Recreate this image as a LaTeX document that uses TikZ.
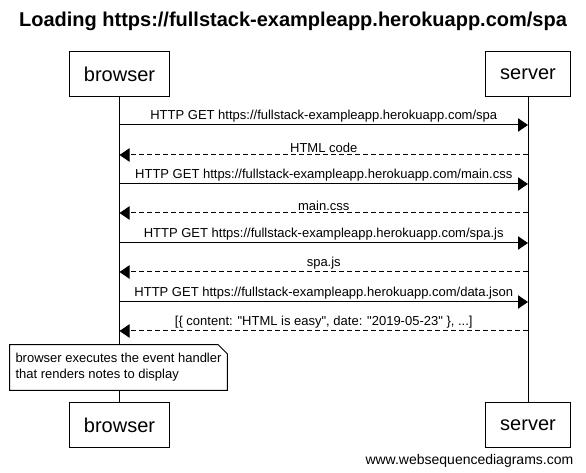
\documentclass[tikz,border=0pt]{standalone}
\usepackage{fontspec}
\setmainfont{Liberation Sans}
\usepackage{tikz}
\usetikzlibrary{arrows.meta,positioning,calc}
\tikzset{
  actorbox/.style={draw=black, fill=white, line width=0.75pt, inner xsep=11pt,
                   minimum height=33.75pt, font=\fontsize{15}{18}\selectfont},
  lifeline/.style={draw=black, line width=0.75pt},
  msgarr/.style={-{Triangle[length=7.5pt,width=10pt]}, draw=black, line width=0.75pt},
  replyarr/.style={msgarr, dash pattern=on 3.75pt off 2.25pt},
  msglab/.style={font=\fontsize{9.75}{11.5}\selectfont, inner sep=1.5pt, above},
  notetext/.style={fill=white, inner xsep=3.75pt, inner ysep=0pt, align=left,
                   minimum width=162.75pt, minimum height=33.75pt,
                   font=\fontsize{9.75}{12}\selectfont},
  noteline/.style={draw=black, line width=0.75pt},
  titlelab/.style={font=\fontsize{15}{18}\selectfont\bfseries},
  marklab/.style={font=\fontsize{10.5}{12}\selectfont, anchor=east},
}

\begin{document}
\begin{tikzpicture}[x=0.75pt,y=-0.75pt]
\useasboundingbox (0,0) rectangle (586,473);
\node[titlelab] (title) at (293,21) {Loading https://fullstack-exampleapp.herokuapp.com/spa};
\node[actorbox] (browser) at (119.5,74.5) {browser};
\node[actorbox] (server) at (528,74.5) {server};
\node[actorbox] (browserend) at (119.5,425.5) {browser};
\node[actorbox] (serverend) at (528,425.5) {server};
\draw[lifeline] (browser) -- (browserend);
\draw[lifeline] (server) -- (serverend);
% message ends on the two lifelines
\coordinate (b1) at (119.5,125); \coordinate (s1) at (528,125);
\coordinate (b2) at (119.5,155); \coordinate (s2) at (528,155);
\coordinate (b3) at (119.5,184); \coordinate (s3) at (528,184);
\coordinate (b4) at (119.5,213); \coordinate (s4) at (528,213);
\coordinate (b5) at (119.5,243); \coordinate (s5) at (528,243);
\coordinate (b6) at (119.5,272); \coordinate (s6) at (528,272);
\coordinate (b7) at (119.5,302); \coordinate (s7) at (528,302);
\coordinate (b8) at (119.5,331); \coordinate (s8) at (528,331);
\draw[msgarr] (b1) -- node[msglab]{HTTP GET https://fullstack-exampleapp.herokuapp.com/spa} (s1);
\draw[replyarr] (s2) -- node[msglab]{HTML code} (b2);
\draw[msgarr] (b3) -- node[msglab]{HTTP GET https://fullstack-exampleapp.herokuapp.com/main.css} (s3);
\draw[replyarr] (s4) -- node[msglab]{main.css} (b4);
\draw[msgarr] (b5) -- node[msglab]{HTTP GET https://fullstack-exampleapp.herokuapp.com/spa.js} (s5);
\draw[replyarr] (s6) -- node[msglab]{spa.js} (b6);
\draw[msgarr] (b7) -- node[msglab]{HTTP GET https://fullstack-exampleapp.herokuapp.com/data.json} (s7);
\draw[replyarr] (s8) -- node[msglab]{[\{ content: \textquotedbl HTML is easy\textquotedbl, date: \textquotedbl 2019-05-23\textquotedbl\ \}, ...]} (b8);
% note with folded corner
\node[notetext] (note) at (118.5,367.5) {browser executes the event handler\\that renders notes to display};
\draw[noteline] (note.north west) -- ($(note.north east)+(-9,0)$) -- ($(note.north east)+(0,9)$)
  -- (note.south east) -- (note.south west) -- cycle;
\node[marklab] (mark) at (578,461) {www.websequencediagrams.com};
\end{tikzpicture}
\end{document}
